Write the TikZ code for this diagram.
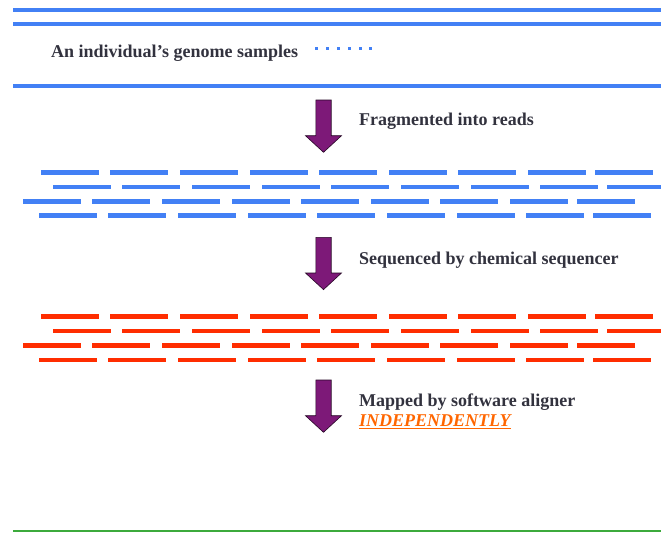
\documentclass[tikz,border=0pt]{standalone}
\usepackage{fontspec}
\setmainfont{Liberation Serif}
\definecolor{dnablue}{RGB}{66,128,245}
\definecolor{readred}{RGB}{255,45,0}
\definecolor{steppurple}{RGB}{125,25,120}
\definecolor{labelgray}{RGB}{50,50,62}
\definecolor{accentorange}{RGB}{255,102,0}
\definecolor{basegreen}{RGB}{60,170,60}
\tikzset{
  strand/.style={line width=4pt, dnablue},
  read/.style={line width=4.5pt},
  steplabel/.style={anchor=base west, inner sep=0pt, text=labelgray,
    font=\fontsize{18}{21}\selectfont\bfseries},
  downarrow/.style={fill=steppurple, draw=black!70!steppurple, line width=0.6pt},
}
% one row of reads: colour, y position, list of left ends
\newcommand{\readrow}[3]{%
  \foreach \xs in {#3} {
    \pgfmathsetmacro{\xe}{min(\xs+57.5,661)}
    \draw[read, #1] (\xs,#2) -- (\xe,#2);
  }}
% block arrow pointing down, top centre at (#1,#2); y grows downwards
\newcommand{\blockdown}[2]{%
  \filldraw[downarrow] (#1-7.7,#2) -- (#1+7.7,#2) -- (#1+7.7,#2+35.7)
    -- (#1+18,#2+35.7) -- (#1,#2+52.3) -- (#1-18,#2+35.7)
    -- (#1-7.7,#2+35.7) -- cycle;}
\begin{document}
\begin{tikzpicture}[x=1pt,y=-1pt]
\useasboundingbox (0,0) rectangle (661,533);

% genome strands
\draw[strand] (13,10) -- (661,10);
\draw[strand] (13,24) -- (661,24);
\draw[strand] (13,86) -- (661,86);
\node[steplabel] (genome) at (51,57.5) {An individual’s genome samples};
\foreach \d in {316,327,338,349,360,370.5}
  \fill[dnablue] (\d-1.5,46.8) rectangle (\d+1.5,49.8);

% fragmentation step
\blockdown{323.5}{100}
\node[steplabel] (frag) at (359,125) {Fragmented into reads};

% reads (blue)
\readrow{dnablue}{172.5}{41,110,180,250,319,389,458,528,595}
\readrow{dnablue}{187}{53,122,192,262,331,401,471,540,607}
\readrow{dnablue}{201.5}{23,92,162,232,301,371,440,510,577}
\readrow{dnablue}{215.5}{39,108,178,248,317,387,457,526,593}

% sequencing step
\blockdown{323.5}{237.3}
\node[steplabel] (seq) at (359,264) {Sequenced by chemical sequencer};

% reads (red)
\readrow{readred}{316.5}{41,110,180,250,319,389,458,528,595}
\readrow{readred}{331}{53,122,192,262,331,401,471,540,607}
\readrow{readred}{345.5}{23,92,162,232,301,371,440,510,577}
\readrow{readred}{360}{39,108,178,248,317,387,457,526,593}

% mapping step
\blockdown{323.5}{380}
\node[steplabel] (map) at (359,406) {Mapped by software aligner};
\node[steplabel, text=accentorange] (indep) at (359,426.5)
  {\itshape\underline{INDEPENDENTLY}};

% reference base line
\draw[basegreen, line width=1.8pt] (13,531) -- (661,531);
\end{tikzpicture}
\end{document}
